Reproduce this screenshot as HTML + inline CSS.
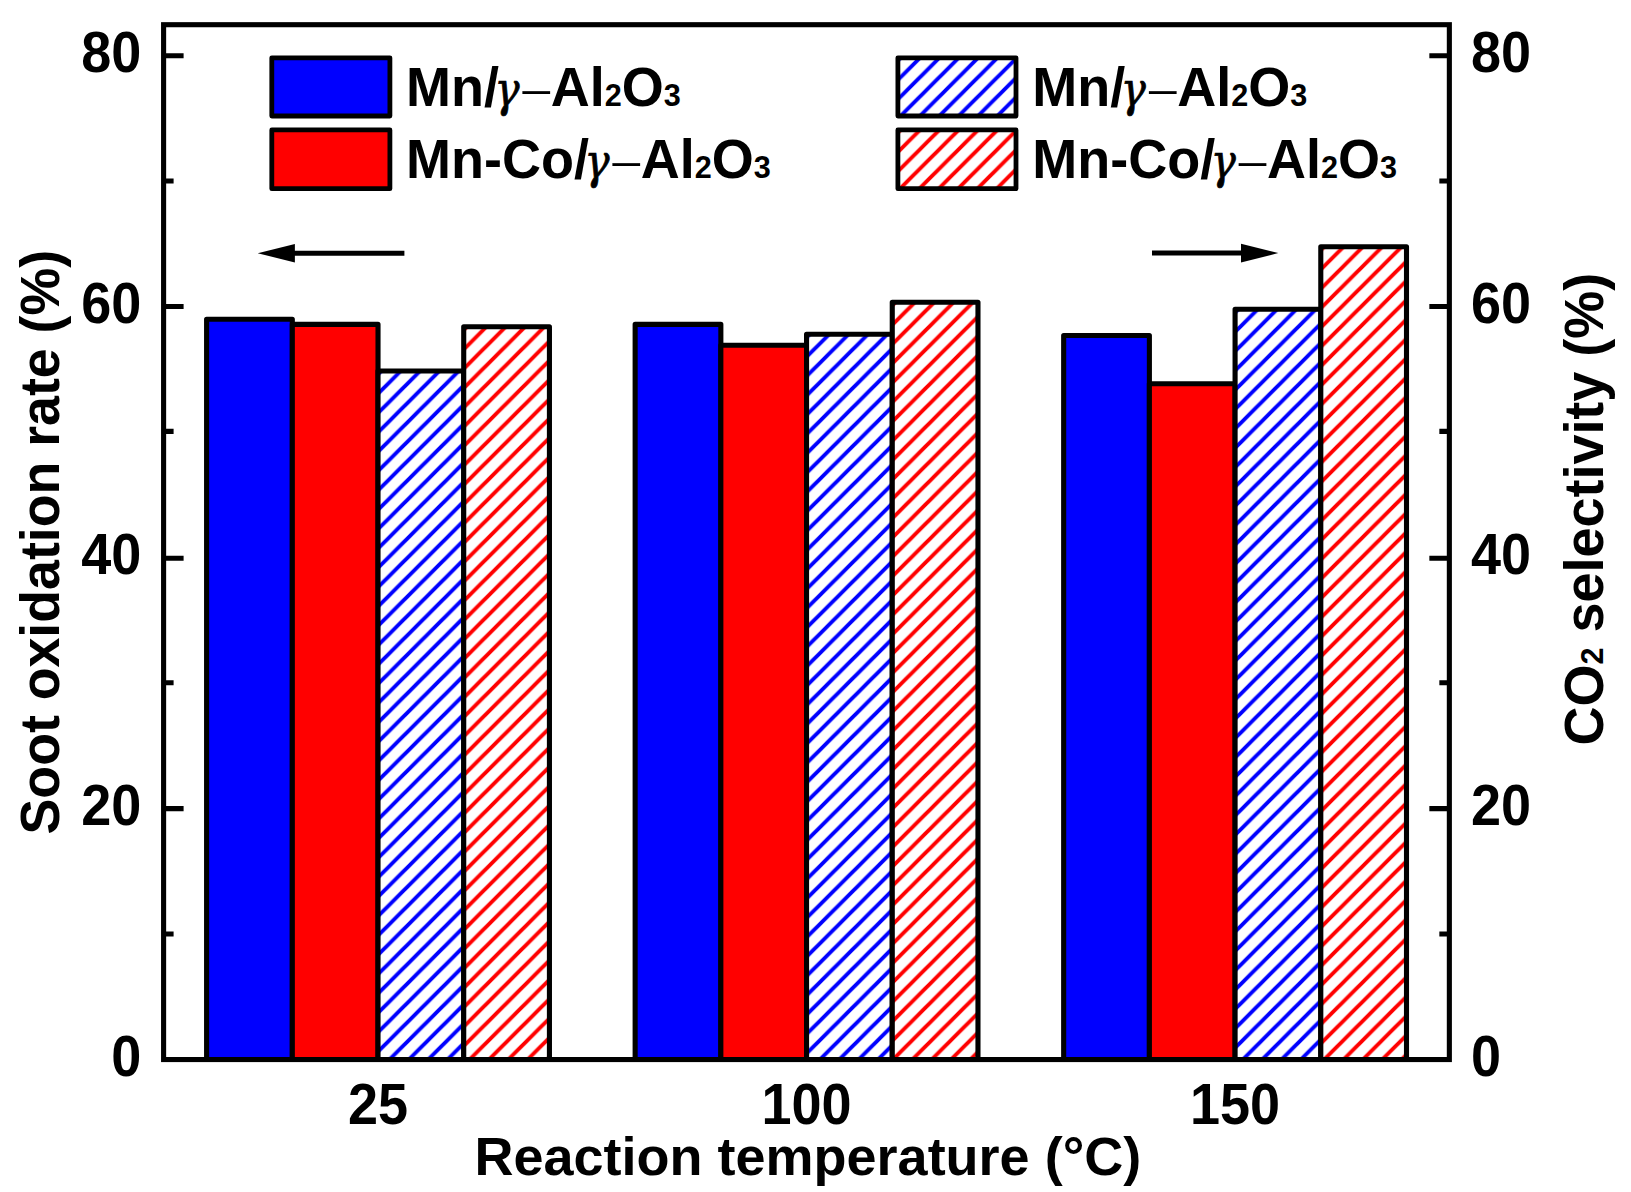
<!DOCTYPE html>
<html lang="en"><head><meta charset="utf-8"><title>Soot oxidation rate and CO2 selectivity</title>
<style>html,body{margin:0;padding:0;background:#fff}body{width:1631px;height:1192px;overflow:hidden}svg{display:block}text{font-family:"Liberation Sans",sans-serif;font-weight:bold;fill:#000}.g{font-family:"Liberation Serif",serif;font-weight:normal}.s{font-family:"Liberation Sans",sans-serif;font-weight:normal}.gi{font-family:"DejaVu Serif Condensed","DejaVu Serif",serif;font-weight:normal;font-style:italic}</style></head><body>
<svg width="1631" height="1192" viewBox="0 0 1631 1192">
<defs>
<pattern id="h1" patternUnits="userSpaceOnUse" width="19.350" height="19.350" x="17.117" y="0">
<path d="M-19.350 19.350L19.350 -19.350M-19.350 38.700L38.700 -19.350M0.000 38.700L38.700 0.000" stroke="#0000ff" stroke-width="3.90" fill="none"/>
</pattern>
<pattern id="h2" patternUnits="userSpaceOnUse" width="19.350" height="19.350" x="0.473" y="0">
<path d="M-19.350 19.350L19.350 -19.350M-19.350 38.700L38.700 -19.350M0.000 38.700L38.700 0.000" stroke="#ff0000" stroke-width="3.90" fill="none"/>
</pattern>
<pattern id="h3" patternUnits="userSpaceOnUse" width="19.350" height="19.350" x="2.500" y="0">
<path d="M-19.350 19.350L19.350 -19.350M-19.350 38.700L38.700 -19.350M0.000 38.700L38.700 0.000" stroke="#0000ff" stroke-width="3.90" fill="none"/>
</pattern>
<pattern id="h4" patternUnits="userSpaceOnUse" width="19.350" height="19.350" x="17.507" y="0">
<path d="M-19.350 19.350L19.350 -19.350M-19.350 38.700L38.700 -19.350M0.000 38.700L38.700 0.000" stroke="#ff0000" stroke-width="3.90" fill="none"/>
</pattern>
<pattern id="h5" patternUnits="userSpaceOnUse" width="19.350" height="19.350" x="19.033" y="0">
<path d="M-19.350 19.350L19.350 -19.350M-19.350 38.700L38.700 -19.350M0.000 38.700L38.700 0.000" stroke="#0000ff" stroke-width="3.90" fill="none"/>
</pattern>
<pattern id="h6" patternUnits="userSpaceOnUse" width="19.350" height="19.350" x="3.640" y="0">
<path d="M-19.350 19.350L19.350 -19.350M-19.350 38.700L38.700 -19.350M0.000 38.700L38.700 0.000" stroke="#ff0000" stroke-width="3.90" fill="none"/>
</pattern>
<pattern id="h7" patternUnits="userSpaceOnUse" width="19.350" height="19.350" x="10.350" y="0">
<path d="M-19.350 19.350L19.350 -19.350M-19.350 38.700L38.700 -19.350M0.000 38.700L38.700 0.000" stroke="#0000ff" stroke-width="3.90" fill="none"/>
</pattern>
<pattern id="h8" patternUnits="userSpaceOnUse" width="19.350" height="19.350" x="5.050" y="0">
<path d="M-19.350 19.350L19.350 -19.350M-19.350 38.700L38.700 -19.350M0.000 38.700L38.700 0.000" stroke="#ff0000" stroke-width="3.90" fill="none"/>
</pattern>
</defs>
<rect x="0" y="0" width="1631" height="1192" fill="#fff"/>
<rect x="206.60" y="319.30" width="85.71" height="740.25" fill="#0000ff" stroke="#000" stroke-width="5.1" stroke-linejoin="round"/>
<rect x="292.31" y="324.40" width="85.71" height="735.15" fill="#ff0000" stroke="#000" stroke-width="5.1" stroke-linejoin="round"/>
<rect x="378.02" y="371.00" width="85.71" height="688.55" fill="#fff"/>
<rect x="378.02" y="371.00" width="85.71" height="688.55" fill="url(#h1)" stroke="#000" stroke-width="5.1" stroke-linejoin="round"/>
<rect x="463.72" y="326.70" width="85.71" height="732.85" fill="#fff"/>
<rect x="463.72" y="326.70" width="85.71" height="732.85" fill="url(#h2)" stroke="#000" stroke-width="5.1" stroke-linejoin="round"/>
<rect x="635.14" y="324.40" width="85.71" height="735.15" fill="#0000ff" stroke="#000" stroke-width="5.1" stroke-linejoin="round"/>
<rect x="720.84" y="345.30" width="85.71" height="714.25" fill="#ff0000" stroke="#000" stroke-width="5.1" stroke-linejoin="round"/>
<rect x="806.55" y="334.20" width="85.71" height="725.35" fill="#fff"/>
<rect x="806.55" y="334.20" width="85.71" height="725.35" fill="url(#h3)" stroke="#000" stroke-width="5.1" stroke-linejoin="round"/>
<rect x="892.26" y="302.20" width="85.71" height="757.35" fill="#fff"/>
<rect x="892.26" y="302.20" width="85.71" height="757.35" fill="url(#h4)" stroke="#000" stroke-width="5.1" stroke-linejoin="round"/>
<rect x="1063.67" y="335.50" width="85.71" height="724.05" fill="#0000ff" stroke="#000" stroke-width="5.1" stroke-linejoin="round"/>
<rect x="1149.38" y="383.80" width="85.71" height="675.75" fill="#ff0000" stroke="#000" stroke-width="5.1" stroke-linejoin="round"/>
<rect x="1235.08" y="309.20" width="85.71" height="750.35" fill="#fff"/>
<rect x="1235.08" y="309.20" width="85.71" height="750.35" fill="url(#h5)" stroke="#000" stroke-width="5.1" stroke-linejoin="round"/>
<rect x="1320.79" y="246.80" width="85.71" height="812.75" fill="#fff"/>
<rect x="1320.79" y="246.80" width="85.71" height="812.75" fill="url(#h6)" stroke="#000" stroke-width="5.1" stroke-linejoin="round"/>
<rect x="163.60" y="24.70" width="1285.75" height="1034.85" fill="none" stroke="#000" stroke-width="5.1"/>
<path d="M163.60 1059.55h20 M1449.35 1059.55h-20 M163.60 934.07h10 M1449.35 934.07h-10 M163.60 808.59h20 M1449.35 808.59h-20 M163.60 682.70h10 M1449.35 682.70h-10 M163.60 558.30h20 M1449.35 558.30h-20 M163.60 431.40h10 M1449.35 431.40h-10 M163.60 306.50h20 M1449.35 306.50h-20 M163.60 181.00h10 M1449.35 181.00h-10 M163.60 55.70h20 M1449.35 55.70h-20" stroke="#000" stroke-width="5.1" fill="none"/>
<text transform="translate(141.40 1075.75) scale(1 1.050)" font-size="54.00" text-anchor="end">0</text>
<text transform="translate(1471.00 1075.75) scale(1 1.050)" font-size="54.00" text-anchor="start">0</text>
<text transform="translate(141.40 824.79) scale(1 1.050)" font-size="54.00" text-anchor="end">20</text>
<text transform="translate(1471.00 824.79) scale(1 1.050)" font-size="54.00" text-anchor="start">20</text>
<text transform="translate(141.40 573.83) scale(1 1.050)" font-size="54.00" text-anchor="end">40</text>
<text transform="translate(1471.00 573.83) scale(1 1.050)" font-size="54.00" text-anchor="start">40</text>
<text transform="translate(141.40 322.86) scale(1 1.050)" font-size="54.00" text-anchor="end">60</text>
<text transform="translate(1471.00 322.86) scale(1 1.050)" font-size="54.00" text-anchor="start">60</text>
<text transform="translate(141.40 71.90) scale(1 1.050)" font-size="54.00" text-anchor="end">80</text>
<text transform="translate(1471.00 71.90) scale(1 1.050)" font-size="54.00" text-anchor="start">80</text>
<text transform="translate(378.02 1124.20) scale(1 1.050)" font-size="54.00" text-anchor="middle">25</text>
<text transform="translate(806.55 1124.20) scale(1 1.050)" font-size="54.00" text-anchor="middle">100</text>
<text transform="translate(1235.08 1124.20) scale(1 1.050)" font-size="54.00" text-anchor="middle">150</text>
<text transform="translate(807.85 1174.80)" font-size="54.00" text-anchor="middle">Reaction temperature (°C)</text>
<text transform="translate(59.40 542.20) rotate(-90) scale(1 1.040)" font-size="53.70" text-anchor="middle">Soot oxidation rate (%)</text>
<text transform="translate(1603.30 745.40) rotate(-90) scale(1 1.040)" font-size="53.95" text-anchor="start">CO<tspan font-size="30.59">2</tspan> selectivity (%)</text>
<rect x="271.8" y="57.8" width="118.1" height="58.2" fill="#0000ff" stroke="#000" stroke-width="4.8" stroke-linejoin="round"/>
<text transform="translate(406.00 105.90) scale(1 1.040)" font-size="54.00" text-anchor="start">Mn/<tspan class="gi" font-size="46.5" dx="-4.4" stroke="#000" stroke-width="0.7">γ</tspan><tspan class="g" dx="3.3">–</tspan><tspan dx="1">Al</tspan><tspan font-size="30.62">2</tspan>O<tspan font-size="30.62">3</tspan></text>
<rect x="271.8" y="129.9" width="118.1" height="58.8" fill="#ff0000" stroke="#000" stroke-width="4.8" stroke-linejoin="round"/>
<text transform="translate(406.00 178.00) scale(1 1.040)" font-size="54.00" text-anchor="start">Mn-Co/<tspan class="gi" font-size="46.5" dx="-4.4" stroke="#000" stroke-width="0.7">γ</tspan><tspan class="g" dx="3.3">–</tspan><tspan dx="1">Al</tspan><tspan font-size="30.62">2</tspan>O<tspan font-size="30.62">3</tspan></text>
<rect x="897.9" y="57.8" width="118.1" height="58.2" fill="#fff"/>
<rect x="897.9" y="57.8" width="118.1" height="58.2" fill="url(#h7)" stroke="#000" stroke-width="4.8" stroke-linejoin="round"/>
<text transform="translate(1032.30 105.90) scale(1 1.040)" font-size="54.00" text-anchor="start">Mn/<tspan class="gi" font-size="46.5" dx="-4.4" stroke="#000" stroke-width="0.7">γ</tspan><tspan class="g" dx="3.3">–</tspan><tspan dx="1">Al</tspan><tspan font-size="30.62">2</tspan>O<tspan font-size="30.62">3</tspan></text>
<rect x="897.9" y="129.9" width="118.1" height="58.8" fill="#fff"/>
<rect x="897.9" y="129.9" width="118.1" height="58.8" fill="url(#h8)" stroke="#000" stroke-width="4.8" stroke-linejoin="round"/>
<text transform="translate(1032.30 178.00) scale(1 1.040)" font-size="54.00" text-anchor="start">Mn-Co/<tspan class="gi" font-size="46.5" dx="-4.4" stroke="#000" stroke-width="0.7">γ</tspan><tspan class="g" dx="3.3">–</tspan><tspan dx="1">Al</tspan><tspan font-size="30.62">2</tspan>O<tspan font-size="30.62">3</tspan></text>
<path d="M404.4 253.2H290" stroke="#000" stroke-width="5" fill="none"/><path d="M257.7 253.2L294.9 243.9V262.5Z" fill="#000"/>
<path d="M1152 253.1H1246" stroke="#000" stroke-width="5" fill="none"/><path d="M1278.3 253.1L1241 243.8V262.4Z" fill="#000"/>
</svg></body></html>
